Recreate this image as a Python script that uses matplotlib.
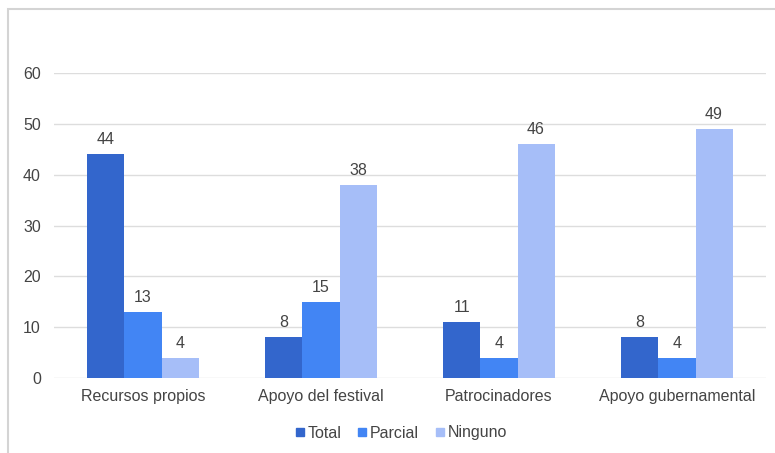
import matplotlib
matplotlib.use("Agg")
import matplotlib.pyplot as plt
from matplotlib.patches import Rectangle
from matplotlib.lines import Line2D
import numpy as np

plt.rcParams['font.family'] = ['Liberation Sans', 'DejaVu Sans']

categories = ["Recursos propios", "Apoyo del festival", "Patrocinadores", "Apoyo gubernamental"]
series_names = ["Total", "Parcial", "Ninguno"]
total = [44, 8, 11, 8]
parcial = [13, 15, 4, 4]
ninguno = [4, 38, 46, 49]
colors = ["#3366CC", "#4285F4", "#A6BEF8"]
yticks = [0, 10, 20, 30, 40, 50, 60]

fig = plt.figure(figsize=(7.75, 4.53), dpi=100)
ax = fig.add_axes([54/775, 1-378/453, (766-54)/775, (378-73)/453])

x = np.arange(len(categories))
w = 0.208
txt = "#444444"
fs = 11.5
for i, (vals, c, name) in enumerate(zip([total, parcial, ninguno], colors, series_names)):
    pos = x + (i - 1) * w
    bars = ax.bar(pos, vals, width=w, color=c, label=name, zorder=3)
    for b, v in zip(bars, vals):
        ax.annotate(str(v), (b.get_x() + b.get_width()/2, v), xytext=(0, 5),
                    textcoords="offset points", ha="center", va="bottom",
                    fontsize=fs, color=txt)

ax.set_xlim(-0.5, len(categories) - 0.5)
ax.set_ylim(0, 60)
ax.set_yticks(yticks)
ax.set_xticks(x)
ax.set_xticklabels(categories)
ax.tick_params(axis='both', length=0, labelsize=fs, colors=txt)
ax.tick_params(axis='y', pad=9.5)
ax.tick_params(axis='x', pad=8)
ax.grid(axis='y', color='#dddddd', linewidth=1, zorder=0)
for s in ax.spines.values():
    s.set_visible(False)

# figure border (left and top visible)
fig.patches.append(Rectangle((7.5/775, -0.1), 1.2, 1 - 9.5/453 + 0.1, transform=fig.transFigure,
                             fill=False, edgecolor='#d4d4d4', linewidth=1.5))

handles = [Line2D([0], [0], marker='s', linestyle='', markersize=6, color=c) for c in colors]
fig.legend(handles, series_names, loc='center', bbox_to_anchor=(401/775, 1-433/453), ncol=3,
           frameon=False, fontsize=fs, handletextpad=0.2, columnspacing=1.0,
           labelcolor=txt, handlelength=0.6)

fig.savefig("out.png", dpi=100)
